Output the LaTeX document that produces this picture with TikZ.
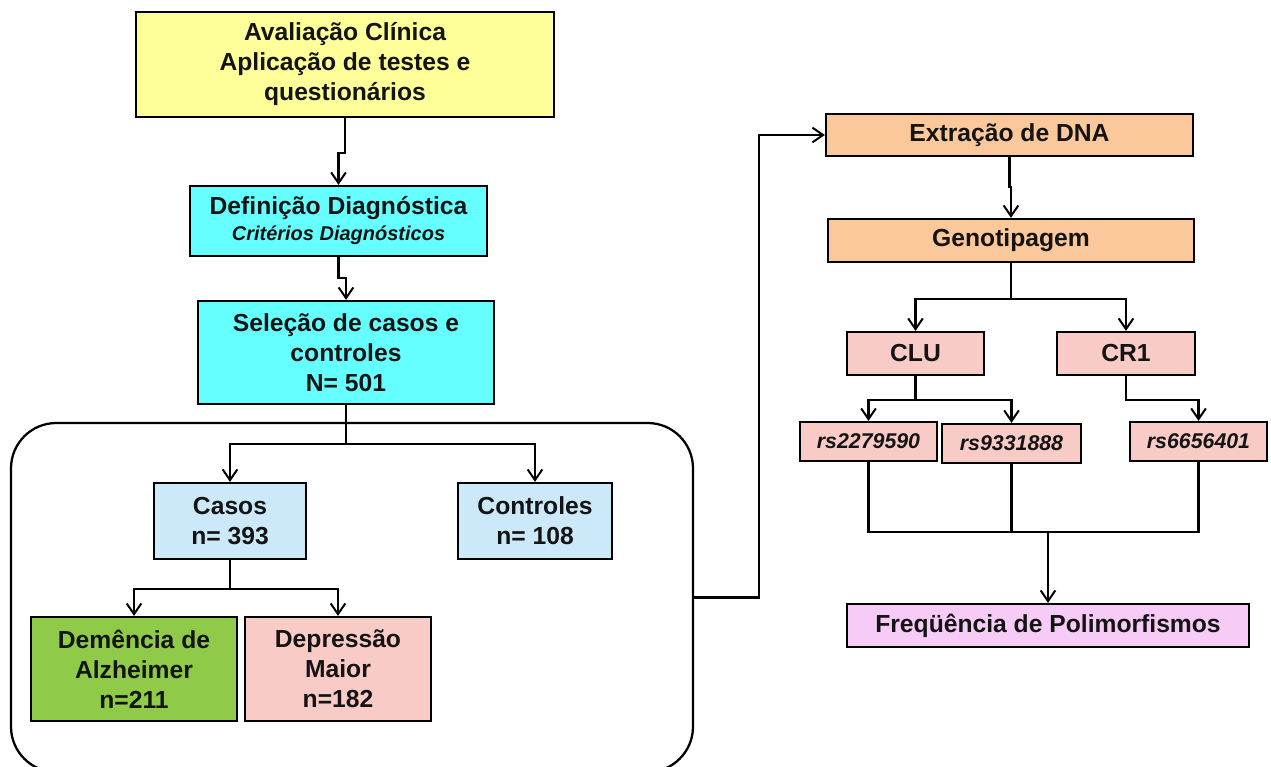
\documentclass[tikz,border=0pt]{standalone}
\usepackage{fontspec}
\setmainfont{Liberation Sans}
\usetikzlibrary{arrows.meta}
\definecolor{yelF}{HTML}{FFFF99}
\definecolor{cyaF}{HTML}{66FFFF}
\definecolor{lblF}{HTML}{CCE9FA}
\definecolor{grnF}{HTML}{8FCB48}
\definecolor{pnkF}{HTML}{F9CBC7}
\definecolor{pchF}{HTML}{FAC89A}
\definecolor{lilF}{HTML}{F6CBF6}
\definecolor{txt}{HTML}{141414}
\tikzset{
  bx/.style 2 args={draw, line width=1.7pt, inner sep=0pt, align=center, text=txt,
    minimum width=#1*0.75pt, minimum height=#2*0.75pt,
    font=\bfseries\fontsize{18.5}{22.5}\selectfont},
  conn/.style={line width=1.7pt},
  arr/.style={conn, -{Straight Barb[length=8pt,width=11pt,line width=1.5pt]}},
}
\begin{document}
\begin{tikzpicture}[x=0.75pt,y=-0.75pt]
\useasboundingbox (0,0) rectangle (1271,767);
% container
\node[draw, line width=1.7pt, rounded corners=34pt, minimum width=682*0.75pt, minimum height=349*0.75pt] (grp) at (352,597.5) {};
% left column
\node[bx={418}{105}, fill=yelF] (aval) at (345,64.5) {Avaliação Clínica\\Aplicação de testes e\\questionários};
\node[bx={297}{70}, fill=cyaF] (def) at (338.5,221) {Definição Diagnóstica\\[-3pt]{\fontsize{15}{18}\selectfont\itshape Critérios Diagnósticos}};
\node[bx={296}{103}, fill=cyaF] (sel) at (346,352.5) {Seleção de casos e\\controles\\N= 501};
\node[bx={152}{76}, fill=lblF] (cas) at (230,521) {Casos\\n= 393};
\node[bx={154}{76}, fill=lblF] (con) at (535,521) {Controles\\n= 108};
\node[bx={206}{104}, fill=grnF] (dem) at (134,669) {Demência de\\Alzheimer\\n=211};
\node[bx={186}{104}, fill=pnkF] (dep) at (338,669) {Depressão\\Maior\\n=182};
% right column
\node[bx={367}{42}, fill=pchF] (ext) at (1009.5,135) {Extração de DNA};
\node[bx={366}{43}, fill=pchF] (gen) at (1011,240.5) {Genotipagem};
\node[bx={137}{43}, fill=pnkF] (clu) at (915.5,353.5) {CLU};
\node[bx={138}{43}, fill=pnkF] (cr1) at (1126,353.5) {CR1};
\node[bx={137}{39}, fill=pnkF, font=\bfseries\itshape\fontsize{16}{19}\selectfont] (rs1) at (868.5,441.5) {rs2279590};
\node[bx={139}{39}, fill=pnkF, font=\bfseries\itshape\fontsize{16}{19}\selectfont] (rs2) at (1011.5,443.5) {rs9331888};
\node[bx={137}{39}, fill=pnkF, font=\bfseries\itshape\fontsize{16}{19}\selectfont] (rs3) at (1198.5,441.5) {rs6656401};
\node[bx={402}{43}, fill=lilF] (frq) at (1048,625.5) {Freqüência de Polimorfismos};
% connectors left
\draw[arr] (aval.south) -- ++(0,35) -| (def.north);
\draw[arr] (def.south) -- ++(0,21) -| (sel.north);
\draw[conn] (sel.south) -- ++(0,39) coordinate (j1);
\draw[arr] (j1) -| (cas.north);
\draw[arr] (j1) -| (con.north);
\draw[conn] (cas.south) -- ++(0,29) coordinate (j2);
\draw[arr] (j2) -| (dem.north);
\draw[arr] (j2) -| (dep.north);
% link
\draw[arr] (grp.east) -- ++(65,0) |- (ext.west);
% connectors right
\draw[arr] (ext.south) -- ++(0,30) -| (gen.north);
\draw[conn] (gen.south) -- ++(0,36) coordinate (j3);
\draw[arr] (j3) -| (clu.north);
\draw[arr] (j3) -| (cr1.north);
\draw[conn] (clu.south) -- ++(0,24) coordinate (j4);
\draw[arr] (j4) -| (rs1.north);
\draw[arr] (j4) -| (rs2.north);
\draw[arr] (cr1.south) -- ++(0,24) -| (rs3.north);
\coordinate (m) at (1048,532);
\draw[conn] (rs1.south) |- (m);
\draw[conn] (rs3.south) |- (m);
\draw[conn] (rs2.south) -- (rs2.south |- m);
\draw[arr, line width=2pt] (m) -- (frq.north);
\end{tikzpicture}
\end{document}
